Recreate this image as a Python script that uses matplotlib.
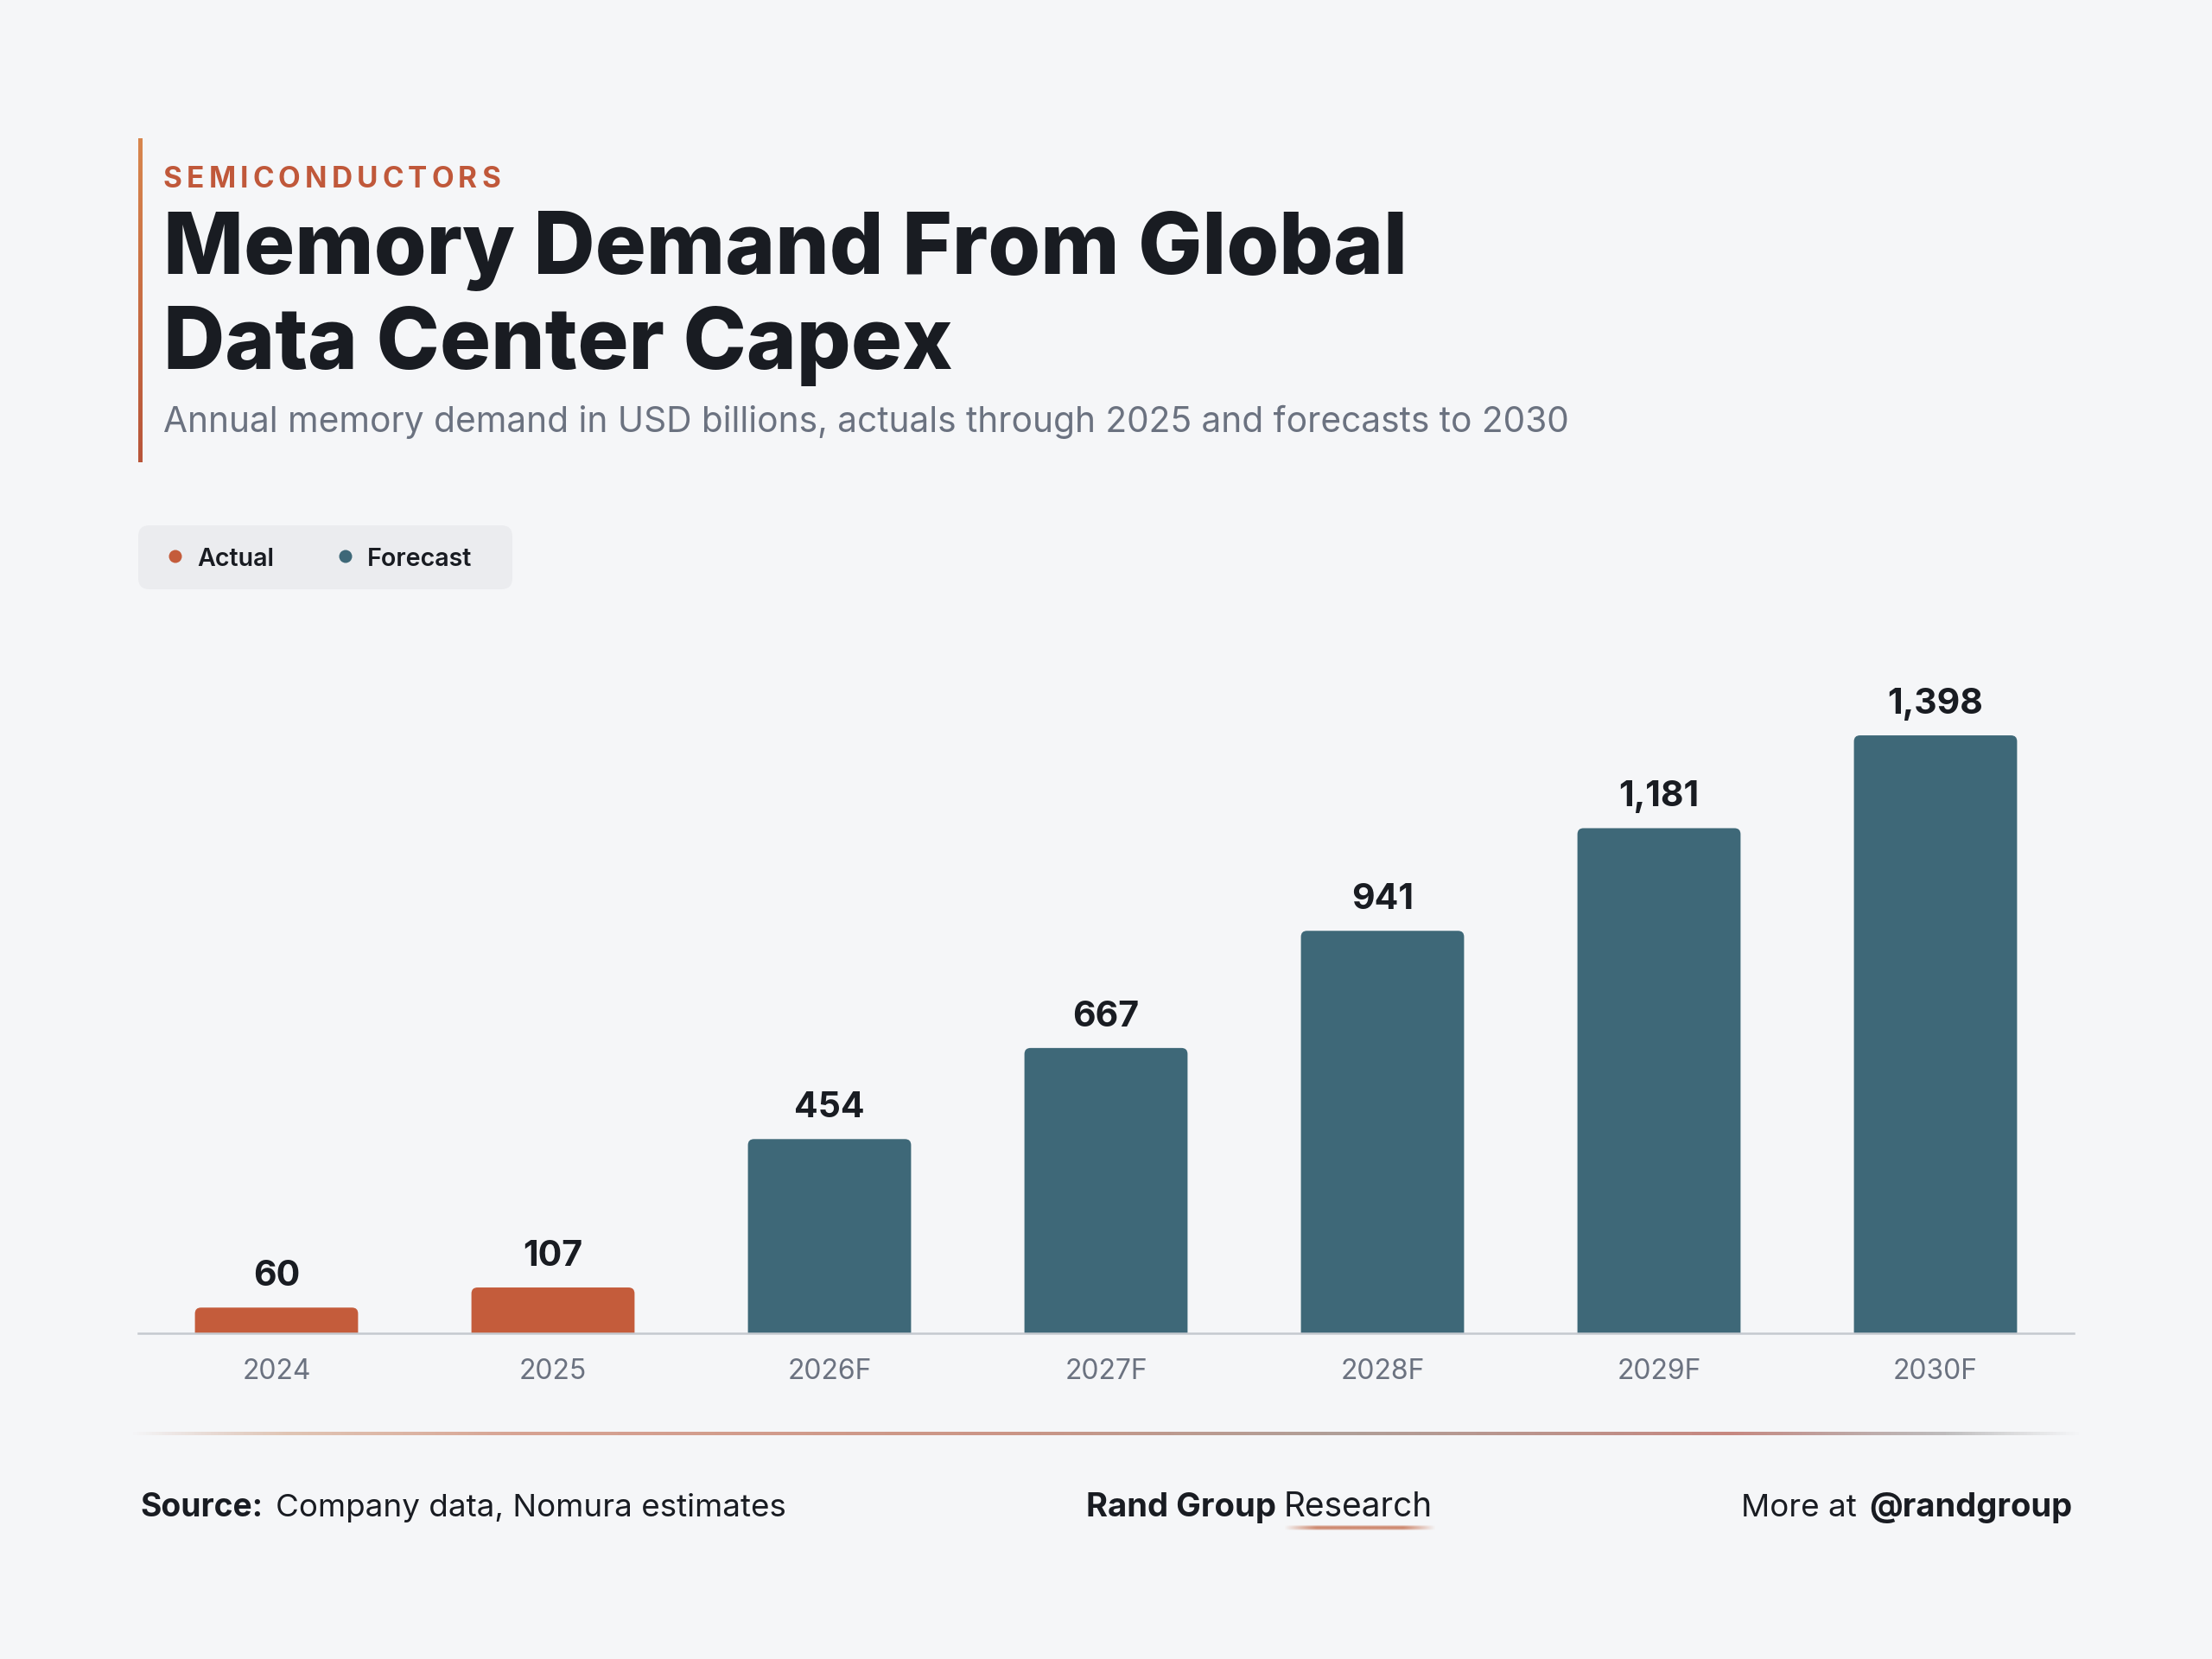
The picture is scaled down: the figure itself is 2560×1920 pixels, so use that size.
import matplotlib
matplotlib.use('Agg')
import matplotlib.pyplot as plt
from matplotlib.patches import FancyBboxPatch, Circle
from matplotlib.colors import to_rgba
import numpy as np

# ---------------- data ----------------
years = ['2024', '2025', '2026F', '2027F', '2028F', '2029F', '2030F']
values = [60, 107, 454, 667, 941, 1181, 1398]
is_actual = [True, True, False, False, False, False, False]
legend_labels = ['Actual', 'Forecast']

kicker = 'SEMICONDUCTORS'
title_lines = ['Memory Demand From Global', 'Data Center Capex']
subtitle = 'Annual memory demand in USD billions, actuals through 2025 and forecasts to 2030'
source_bold, source_text = 'Source:', 'Company data, Nomura estimates'
brand_bold, brand_text = 'Rand Group', 'Research'
more_text, more_bold = 'More at', '@randgroup'

# ---------------- style ----------------
BG = '#F5F6F8'
ORANGE = '#C45C3B'
TEAL = '#3E6878'
DARK = '#191C22'
GREY = '#6B7280'

plt.rcParams['font.family'] = ['Inter', 'DejaVu Sans']

W, H = 2560, 1920
fig = plt.figure(figsize=(25.6, 19.2), dpi=100, facecolor=BG)
R = fig.canvas.get_renderer()


def fx(px):
    return px / W


def fy(py):
    return 1 - py / H


def width_of(t):
    return t.get_window_extent(R).width


def fit(t, target):
    fs = t.get_fontsize()
    for _ in range(3):
        w = width_of(t)
        fs = fs * target / w
        t.set_fontsize(fs)
    return t


# accent bar (vertical gradient)
acc = fig.add_axes([fx(160), fy(535), 5 / W, (535 - 160) / H])
c1, c2 = np.array(to_rgba('#D8864E')), np.array(to_rgba('#B8553A'))
g = np.linspace(0, 1, 200)[:, None]
acc.imshow((c1 * (1 - g) + c2 * g).reshape(200, 1, 4), aspect='auto', extent=[0, 1, 0, 1])
acc.axis('off')

# kicker with letter spacing
ktexts = [fig.text(0, 0, c, fontsize=24, fontweight='bold', color='#C0583A', va='baseline') for c in kicker]
kw = [width_of(t) for t in ktexts]
gap = (390 - sum(kw)) / (len(kicker) - 1)
xk = 189
for t, w in zip(ktexts, kw):
    t.set_position((fx(xk), fy(217)))
    xk += w + gap

# title
t1 = fig.text(fx(189), fy(317), title_lines[0], fontsize=72, fontweight=800, color=DARK, va='baseline')
fit(t1, 1440)
t2 = fig.text(fx(189), fy(427), title_lines[1], fontsize=t1.get_fontsize(), fontweight=800, color=DARK, va='baseline')

# subtitle
st = fig.text(fx(189), fy(500), subtitle, fontsize=28, color=GREY, va='baseline')
fit(st, 1628)

# legend box
lg = fig.add_axes([0, 0, 1, 1], facecolor='none')
lg.set_xlim(0, W)
lg.set_ylim(H, 0)
lg.axis('off')
lg.add_patch(FancyBboxPatch((160, 608), 433, 74, boxstyle='round,pad=0,rounding_size=13',
                            fc='#EBECEF', ec='none'))
lg.add_patch(Circle((203, 644), 7.5, fc=ORANGE, ec='none'))
lg.add_patch(Circle((400, 644), 7.5, fc=TEAL, ec='none'))
la = lg.text(228, 655, legend_labels[0], fontsize=21, fontweight=600, color=DARK, va='baseline')
fit(la, 89)
lf = lg.text(425, 655, legend_labels[1], fontsize=la.get_fontsize(), fontweight=600, color=DARK, va='baseline')

# ---------------- bar chart ----------------
ax_top = 760
ax = fig.add_axes([fx(160), fy(1543), (2400 - 160) / W, (1543 - ax_top) / H])
ymax = 1582
ax.set_xlim(-0.5, len(values) - 0.5)
ax.set_ylim(0, ymax)
ax.set_facecolor('none')
px_per_x = 2240 / len(values)
px_per_y = (1543 - ax_top) / ymax
asp = px_per_x / px_per_y
bw = 0.59
rr = 7 / px_per_x
for i, (v, a) in enumerate(zip(values, is_actual)):
    col = ORANGE if a else TEAL
    p = FancyBboxPatch((i - bw / 2, -30), bw, v + 30,
                       boxstyle=f'round,pad=0,rounding_size={rr}',
                       mutation_aspect=asp, fc=col, ec='none', zorder=2)
    ax.add_patch(p)
    ax.annotate(f'{v:,}', (i, v), xytext=(0, 18), textcoords='offset points',
                ha='center', va='baseline', fontsize=29.5, fontweight='bold', color=DARK)

for s in ['top', 'right', 'left']:
    ax.spines[s].set_visible(False)
ax.spines['bottom'].set_color('#C5C9CF')
ax.spines['bottom'].set_linewidth(1.8)
ax.spines['bottom'].set_zorder(3)
ax.set_yticks([])
ax.set_xticks(range(len(years)))
ax.set_xticklabels(years)
ax.tick_params(axis='x', length=0, pad=21, labelsize=23, labelcolor=GREY)

# ---------------- divider gradient line ----------------
dv = fig.add_axes([fx(150), fy(1661), 2260 / W, 4 / H])
N = 600
xs = np.linspace(0, 1, N)
stops = [(0.0, '#C8A090', 0.0), (0.08, '#D8B098', 0.7), (0.2, '#D49A88', 0.9),
         (0.45, '#C99080', 0.95), (0.62, '#A8968E', 0.9), (0.82, '#C5827A', 0.95),
         (0.93, '#9A9696', 0.6), (1.0, '#A0A0A0', 0.0)]
sx = [s[0] for s in stops]
cols = np.array([to_rgba(s[1]) for s in stops])
alph = [s[2] for s in stops]
img = np.zeros((1, N, 4))
for k in range(3):
    img[0, :, k] = np.interp(xs, sx, cols[:, k])
img[0, :, 3] = np.interp(xs, sx, alph)
dv.imshow(img, aspect='auto', extent=[0, 1, 0, 1])
dv.axis('off')

# ---------------- footer ----------------
fb = fig.text(fx(162), fy(1755), source_bold, fontsize=26, fontweight='bold', color=DARK, va='baseline')
fit(fb, 142)
fs_foot = fb.get_fontsize()
fr = fig.text(fx(319), fy(1755), source_text, fontsize=fs_foot, color=DARK, va='baseline')
fit(fr, 591)
fs_reg = fr.get_fontsize()

bb = fig.text(fx(1257), fy(1755), brand_bold, fontsize=fs_foot, fontweight='bold', color=DARK, va='baseline')
fit(bb, 220)
bx = 1486
br = fig.text(fx(bx), fy(1755), brand_text, fontsize=fs_reg, color=DARK, va='baseline')
fit(br, 172)
bw_r = width_of(br)

mb = fig.text(fx(2398), fy(1755), more_bold, fontsize=fs_foot, fontweight='bold', color=DARK, va='baseline', ha='right')
fit(mb, 235)
mx = 2398 - width_of(mb) - 14
mt = fig.text(fx(mx), fy(1755), more_text, fontsize=fs_reg, color=DARK, va='baseline', ha='right')

# underline under "Research"
ul = fig.add_axes([fx(bx), fy(1771), 176 / W, 6 / H])
N2 = 200
u = np.linspace(0, 1, N2)
uimg = np.zeros((6, N2, 4))
prof_y = np.array([0.35, 0.8, 1.0, 1.0, 0.8, 0.35])
c = to_rgba('#C8785A')
for k in range(3):
    uimg[:, :, k] = c[k]
uimg[:, :, 3] = prof_y[:, None] * np.clip(np.sin(np.pi * u) * 1.6, 0, 1)[None, :] * 0.85
ul.imshow(uimg, aspect='auto', extent=[0, 1, 0, 1])
ul.axis('off')

fig.savefig('out.png', dpi=100, facecolor=BG)
